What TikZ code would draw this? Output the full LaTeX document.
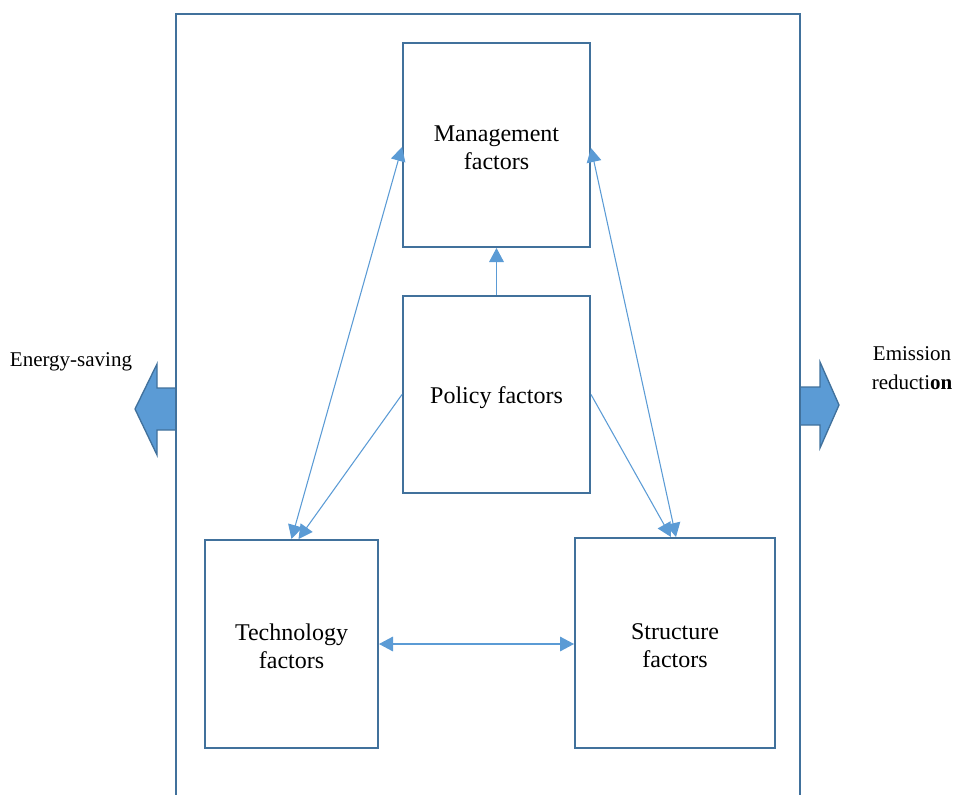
\documentclass[tikz,border=0pt]{standalone}
\usepackage{fontspec}
\setmainfont{Liberation Serif}
\usetikzlibrary{arrows.meta,calc}
\definecolor{boxblue}{HTML}{41719C}
\definecolor{lineblue}{HTML}{5B9BD5}
\begin{document}
\begin{tikzpicture}[x=0.75pt,y=-0.75pt,
  factor/.style={draw=boxblue,line width=1.5pt,fill=white,inner sep=0pt},
  lbl/.style={align=center,inner sep=0pt,font=\fontsize{18}{21}\selectfont},
  conn/.style={draw=lineblue,line width=0.8pt},
  tip/.style={-{Triangle[length=10.5pt,width=11pt]}},
  dtip/.style={{Triangle[length=10.5pt,width=11pt]}-{Triangle[length=10.5pt,width=11pt]}},
  bigarrow/.style={draw=boxblue,line width=1pt,fill=lineblue},
  side/.style={font=\fontsize{15.75}{21.5}\selectfont,align=center,inner sep=0pt}]
\useasboundingbox (0,0) rectangle (956,795);
% outer frame (open at bottom)
\draw[boxblue,line width=1.5pt] (176,795) -- (176,14) -- (800,14) -- (800,795);
% big arrows
\draw[bigarrow] (176,388) -- (157,388) -- (157,364) -- (135,409) -- (157,455) -- (157,430) -- (176,430);
\draw[bigarrow] (800,387) -- (820,387) -- (820,362) -- (839,405) -- (820,448) -- (820,425) -- (800,425);
\draw[boxblue,line width=1.5pt] (176,380) -- (176,440);
\draw[boxblue,line width=1.5pt] (800,380) -- (800,440);
% factor boxes
\node[factor,minimum width=140.25pt,minimum height=153pt] (mgmt) at (496.5,145) {};
\node[factor,minimum width=140.25pt,minimum height=147.75pt] (policy) at (496.5,394.5) {};
\node[factor,minimum width=129.75pt,minimum height=156pt] (tech) at (291.5,644) {};
\node[factor,minimum width=150pt,minimum height=157.5pt] (struct) at (675,643) {};
\node[lbl] (mgmtlbl) at ($(mgmt)+(0,2.5)$) {Management\\factors};
\node[lbl] (policylbl) at ($(policy)+(0,3.5)$) {Policy factors};
\node[lbl] (techlbl) at ($(tech)+(0,2)$) {Technology\\factors};
\node[lbl] (structlbl) at ($(struct)+(0,3)$) {Structure\\factors};
% side labels
\node[side] (energy) at (71,362) {Energy-saving};
\node[side] (emission) at (912,368) {Emission\\reducti\textbf{on}};
% connectors
\draw[conn,tip] (policy.north) -- (mgmt.south);
\draw[conn,dtip] (tech.north) -- ($(mgmt.west)+(0,2)$);
\draw[conn,tip] (policy.west) -- ($(tech.north)+(7,0)$);
\draw[conn,dtip] ($(mgmt.east)+(0,3)$) -- ($(struct.north)+(1,0)$);
\draw[conn,tip] (policy.east) -- ($(struct.north)+(-4,0)$);
\draw[conn,dtip] (tech.east) -- (tech.east -| struct.west);
\end{tikzpicture}
\end{document}
